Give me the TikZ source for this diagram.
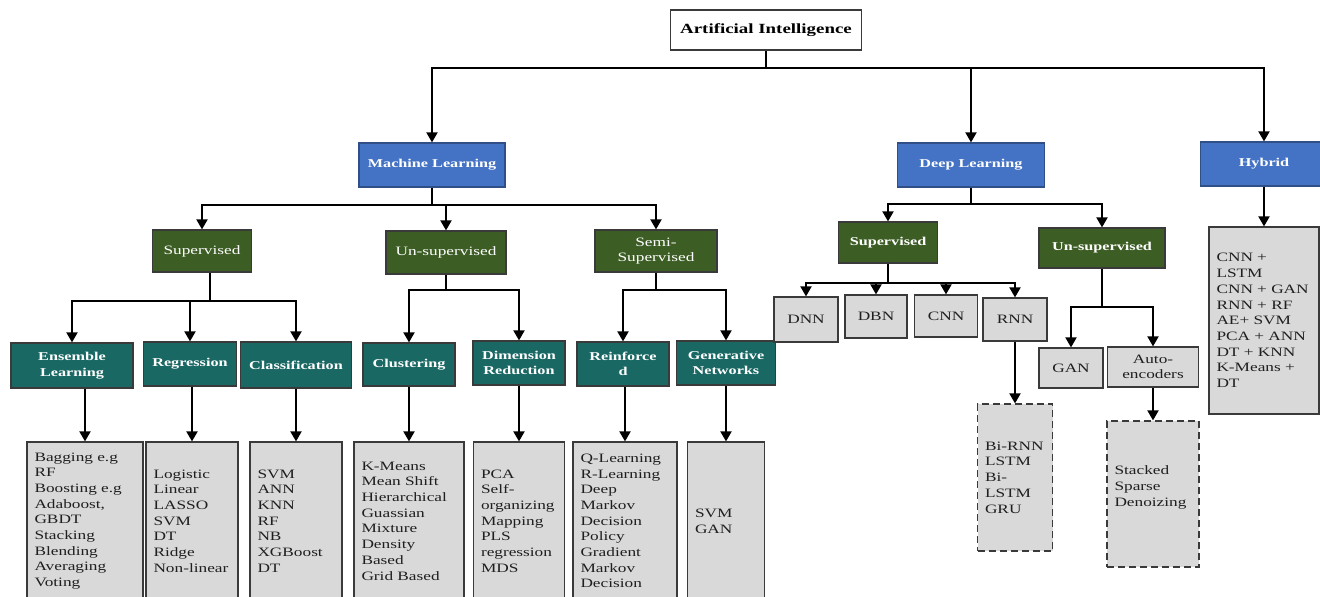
\documentclass[tikz,border=0pt]{standalone}
\usepackage{fontspec}
\setmainfont{Liberation Serif}[FakeStretch=1.35]
\usetikzlibrary{arrows.meta}
\definecolor{aiblue}{HTML}{4472C4}
\definecolor{blueedge}{HTML}{2F4F86}
\definecolor{grn}{HTML}{3C5D24}
\definecolor{tealc}{HTML}{196864}
\definecolor{lgray}{HTML}{D9D9D9}
\definecolor{boxedge}{HTML}{3A3A3A}
\hyphenpenalty=10000
\begin{document}
\begin{tikzpicture}[x=1pt,y=-1pt,
  base/.style={draw=boxedge, line width=1.2pt, inner sep=0pt, align=center},
  bluebox/.style={base, fill=aiblue, draw=blueedge, text=white, font=\fontsize{12}{15.6}\selectfont\bfseries},
  mlgreen/.style={base, fill=grn, text=white, font=\fontsize{12.8}{15.6}\selectfont},
  dlgreen/.style={base, fill=grn, text=white, font=\fontsize{12}{15.6}\selectfont\bfseries},
  tealbox/.style={base, fill=tealc, text=white, font=\fontsize{12}{15.6}\selectfont\bfseries},
  graybox/.style={base, fill=lgray, text=black!88, font=\fontsize{12.8}{15.6}\selectfont},
  leaf/.style={base, fill=lgray, text=black!88, align=left, inner xsep=7.5pt, font=\fontsize{12.8}{15.7}\selectfont},
  dashleaf/.style={leaf, dash pattern=on 7pt off 4pt},
  arr/.style={line width=1.9pt, -{Triangle[width=11pt,length=10pt]}},
  conn/.style={line width=1.9pt},
]
\useasboundingbox (0,0) rectangle (1320,597);
\fill[white] (0,0) rectangle (1320,597);

% root
\node[base, fill=white, minimum width=191, minimum height=40, font=\fontsize{14}{16}\selectfont\bfseries] (ai) at (766,30) {Artificial Intelligence};

% level 1
\node[bluebox, minimum width=146, minimum height=44] (ml) at (432,165) {Machine Learning};
\node[bluebox, minimum width=147, minimum height=44] (dl) at (971,165) {Deep Learning};
\node[bluebox, minimum width=127, minimum height=44] (hy) at (1264,164) {Hybrid};

% ML level 2
\node[mlgreen, minimum width=99, minimum height=42] (msup) at (202,251) {Supervised};
\node[mlgreen, minimum width=120, minimum height=43] (munsup) at (446,252.5) {Un-supervised};
\node[mlgreen, minimum width=122, minimum height=42] (msemi) at (656,251) {Semi-\\Supervised};

% ML level 3
\node[tealbox, minimum width=122, minimum height=45] (ens) at (72,365.5) {Ensemble\\Learning};
\node[tealbox, minimum width=93, minimum height=44] (reg) at (190,364) {Regression};
\node[tealbox, minimum width=111, minimum height=46] (cla) at (296,365) {Classification};
\node[tealbox, minimum width=92, minimum height=43] (clu) at (409,364.5) {Clustering};
\node[tealbox, minimum width=92, minimum height=44] (dim) at (519,363) {Dimension\\Reduction};
\node[tealbox, minimum width=92, minimum height=44] (rei) at (623,364) {Reinforce\\d};
\node[tealbox, minimum width=99, minimum height=44] (gen) at (726,363) {Generative\\Networks};

% ML leaves
\node[leaf, minimum height=158, text width=101] (ensL) at (85,521) {Bagging e.g\\RF\\Boosting e.g\\Adaboost,\\GBDT\\Stacking\\Blending\\Averaging\\Voting};
\node[leaf, minimum height=158, text width=77] (regL) at (192,521) {Logistic\\Linear\\LASSO\\SVM\\DT\\Ridge\\Non-linear};
\node[leaf, minimum height=158, text width=77] (claL) at (296,521) {SVM\\ANN\\KNN\\RF\\NB\\XGBoost\\DT};
\node[leaf, minimum height=158, text width=95] (cluL) at (409,521) {K-Means\\Mean Shift\\Hierarchical\\Guassian\\Mixture\\Density\\Based\\Grid Based};
\node[leaf, minimum height=158, text width=76] (dimL) at (519,521) {PCA\\Self-\\organizing\\Mapping\\PLS\\regression\\MDS};
\node[leaf, minimum height=158, text width=89] (reiL) at (625,521) {Q-Learning\\R-Learning\\Deep\\Markov\\Decision\\Policy\\Gradient\\Markov\\Decision};
\node[leaf, minimum height=158, text width=62] (genL) at (726,521) {SVM\\GAN};

% DL level 2
\node[dlgreen, minimum width=99, minimum height=41] (dsup) at (888,242.5) {Supervised};
\node[dlgreen, minimum width=126, minimum height=40] (dunsup) at (1102,248) {Un-supervised};

% DL level 3
\node[graybox, minimum width=64, minimum height=45] (dnn) at (806,319.5) {DNN};
\node[graybox, minimum width=62, minimum height=43] (dbn) at (876,316.5) {DBN};
\node[graybox, minimum width=63, minimum height=42] (cnn) at (946,316) {CNN};
\node[graybox, minimum width=64, minimum height=43] (rnn) at (1015,319.5) {RNN};
\node[graybox, minimum width=64, minimum height=40] (gan) at (1071,368) {GAN};
\node[graybox, minimum width=91, minimum height=40] (auto) at (1153,367) {Auto-\\encoders};

% DL leaves
\node[dashleaf, minimum height=147, text width=60] (rnnL) at (1015,477.5) {Bi-RNN\\LSTM\\Bi-\\LSTM\\GRU};
\node[dashleaf, minimum height=146, text width=77] (autoL) at (1153,494) {Stacked\\Sparse\\Denoizing\\\mbox{}};

% Hybrid leaf
\node[leaf, minimum height=187, text width=95] (hyL) at (1264,320.5) {CNN +\\LSTM\\CNN + GAN\\RNN + RF\\AE+ SVM\\PCA + ANN\\DT + KNN\\K-Means +\\DT};

% connectors: root
\coordinate (j0) at (766,68);
\draw[conn] (ai.south) -- (j0);
\draw[arr] (j0) -| (ml.north);
\draw[arr] (j0) -| (dl.north);
\draw[arr] (j0) -| (hy.north);

% ML
\coordinate (j1) at (432,205);
\draw[conn] (ml.south) -- (j1);
\draw[arr] (j1) -| (msup.north);
\draw[arr] (j1) -| (munsup.north);
\draw[arr] (j1) -| (msemi.north);

\coordinate (j2) at (210,301);
\draw[conn] (msup.south -| j2) -- (j2);
\draw[arr] (j2) -| (ens.north);
\draw[arr] (j2) -| (reg.north);
\draw[arr] (j2) -| (cla.north);

\coordinate (j3) at (446,290);
\draw[conn] (munsup.south) -- (j3);
\draw[arr] (j3) -| (clu.north);
\draw[arr] (j3) -| (dim.north);

\coordinate (j4) at (656,290);
\draw[conn] (msemi.south) -- (j4);
\draw[arr] (j4) -| (rei.north);
\draw[arr] (j4) -| (gen.north);

\draw[arr] (ens.south -| ensL.north) -- (ensL.north);
\draw[arr] (reg.south -| regL.north) -- (regL.north);
\draw[arr] (cla.south -| claL.north) -- (claL.north);
\draw[arr] (clu.south -| cluL.north) -- (cluL.north);
\draw[arr] (dim.south -| dimL.north) -- (dimL.north);
\draw[arr] (rei.south -| reiL.north) -- (reiL.north);
\draw[arr] (gen.south -| genL.north) -- (genL.north);

% DL
\coordinate (j5) at (971,204);
\draw[conn] (dl.south) -- (j5);
\draw[arr] (j5) -| (dsup.north);
\draw[arr] (j5) -| (dunsup.north);

\coordinate (j6) at (888,283);
\draw[conn] (dsup.south) -- (j6);
\draw[arr] (j6) -| (dnn.north);
\draw[arr] (j6) -| (dbn.north);
\draw[arr] (j6) -| (cnn.north);
\draw[arr] (j6) -| (rnn.north);

\coordinate (j7) at (1102,307);
\draw[conn] (dunsup.south) -- (j7);
\draw[arr] (j7) -| (gan.north);
\draw[arr] (j7) -| (auto.north);

\draw[arr] (rnn.south -| rnnL.north) -- (rnnL.north);
\draw[arr] (auto.south -| autoL.north) -- (autoL.north);
\draw[arr] (hy.south -| hyL.north) -- (hyL.north);
\end{tikzpicture}
\end{document}
